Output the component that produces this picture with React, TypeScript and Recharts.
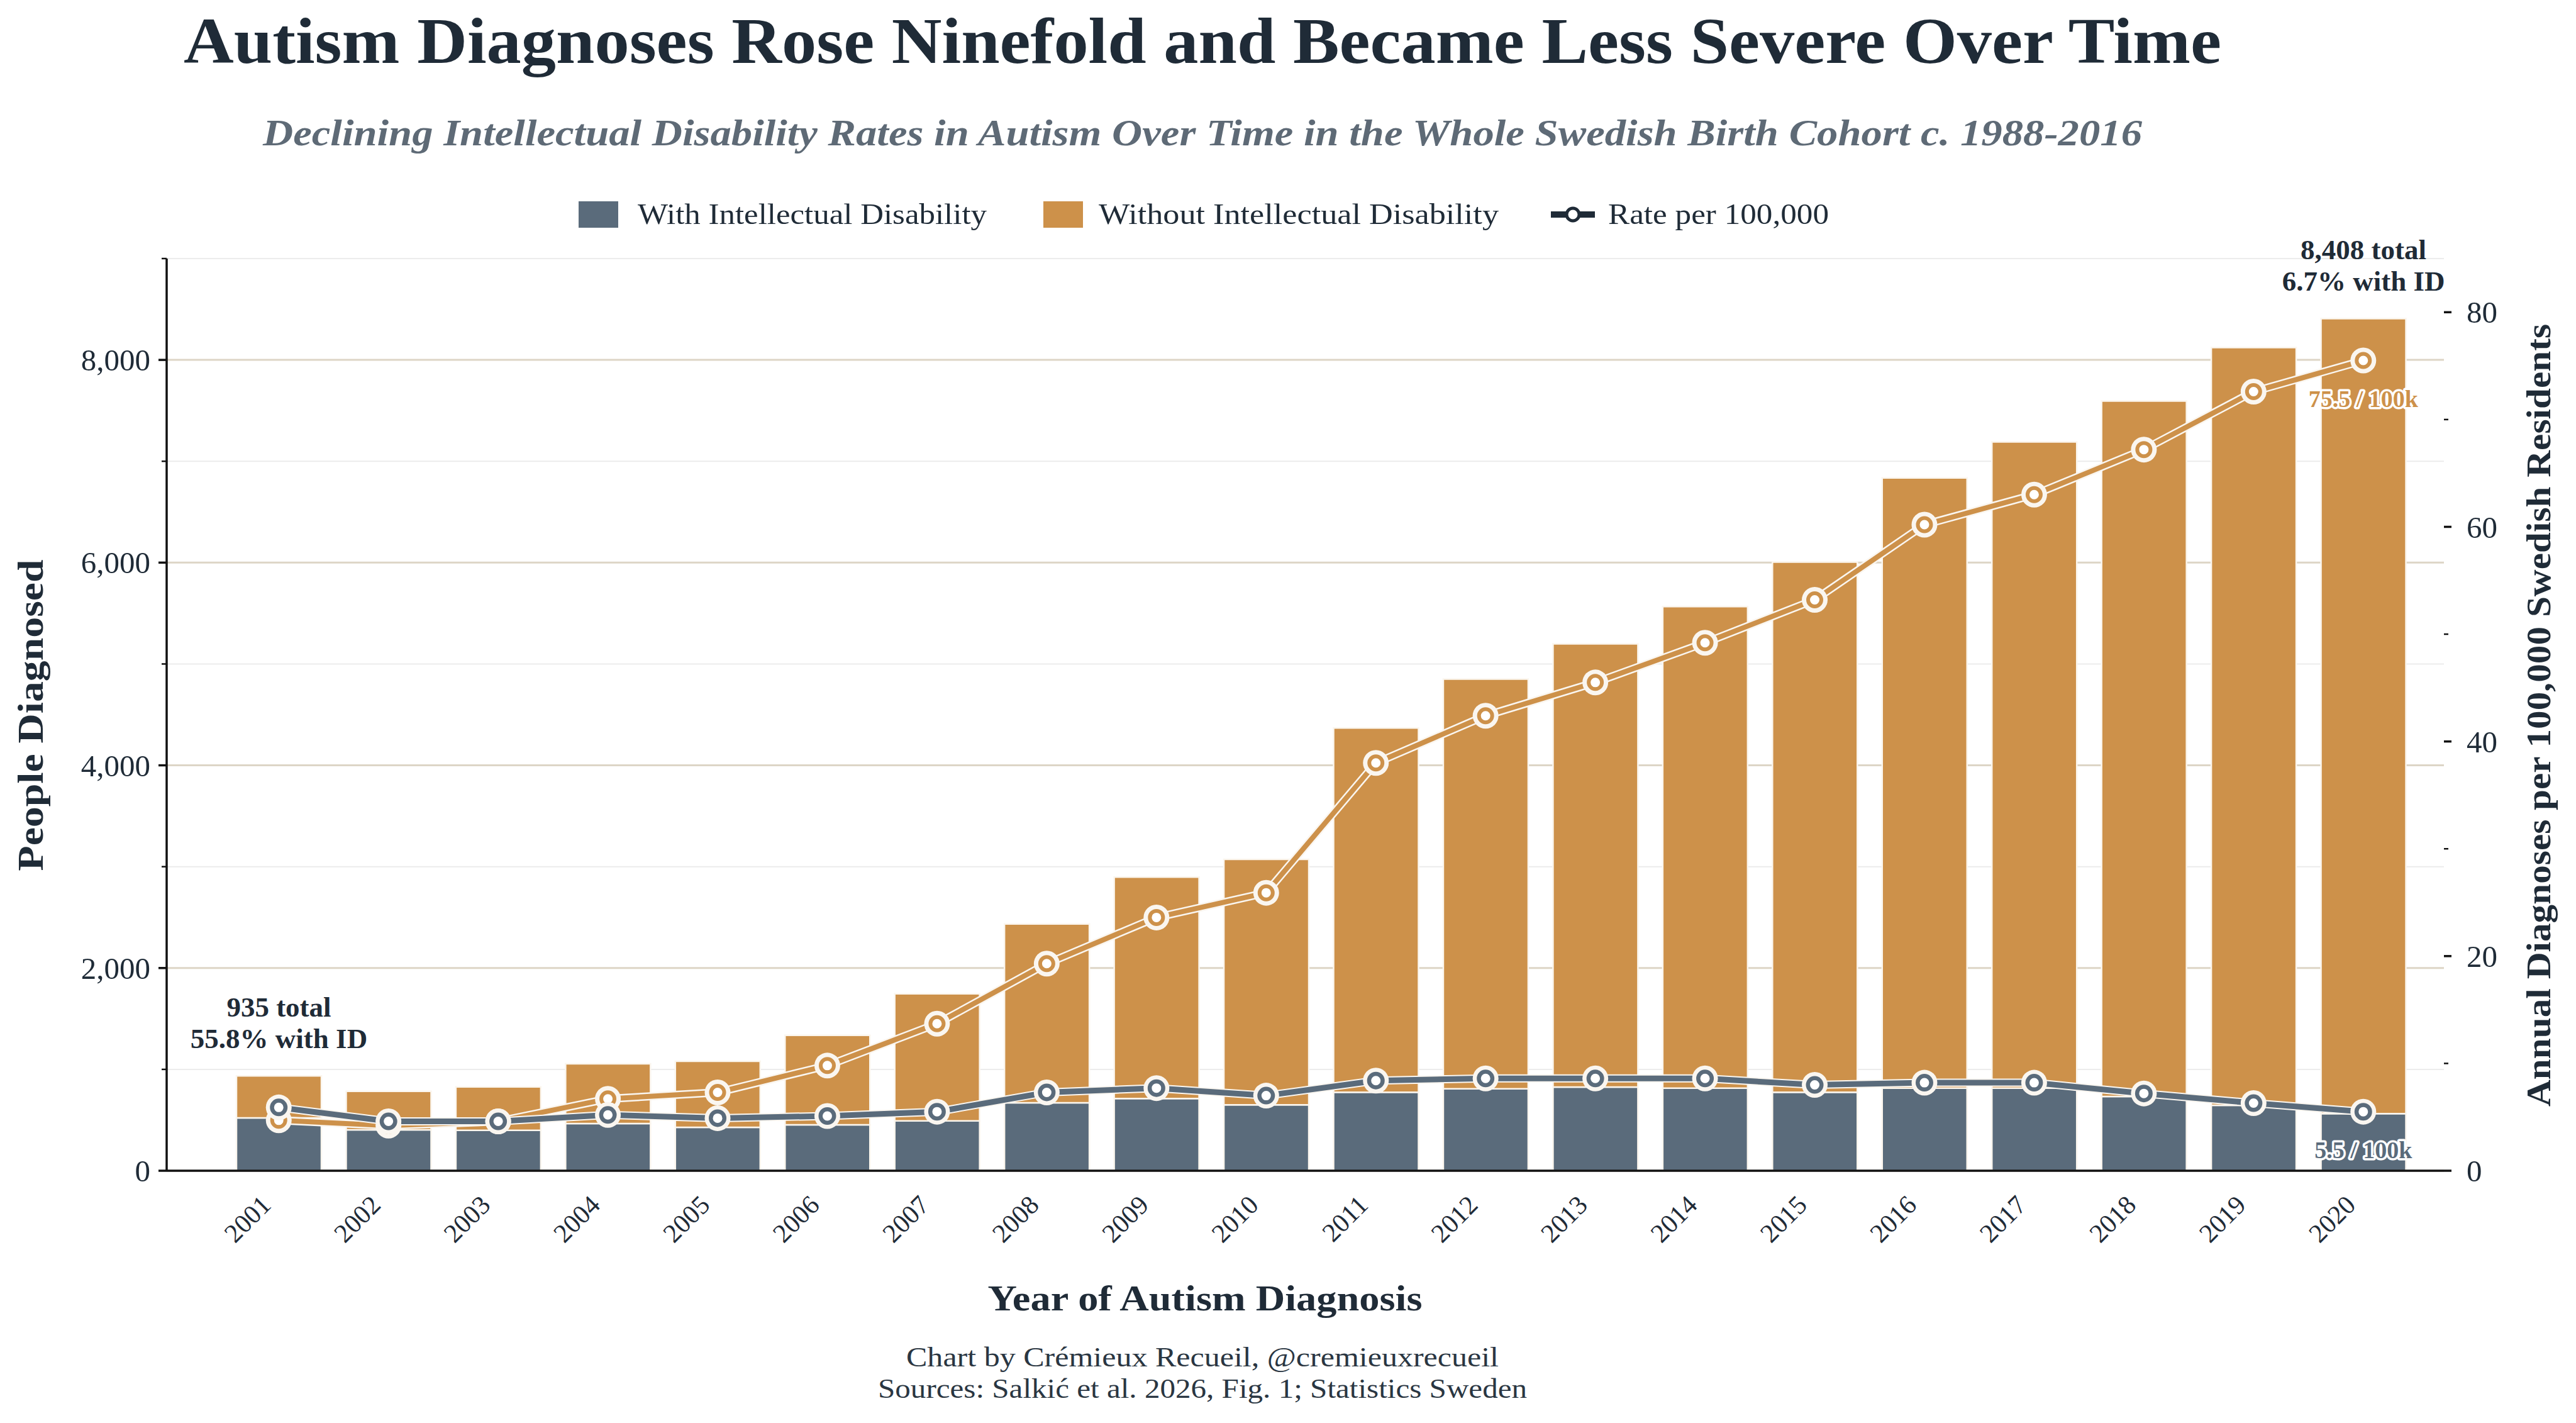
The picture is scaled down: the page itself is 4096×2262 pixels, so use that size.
import React from 'react';
import { ComposedChart, Bar, Line, XAxis, YAxis, CartesianGrid, LabelList } from 'recharts';

const years = ['2001', '2002', '2003', '2004', '2005', '2006', '2007', '2008', '2009', '2010',
  '2011', '2012', '2013', '2014', '2015', '2016', '2017', '2018', '2019', '2020'];
const withId = [521, 403, 399, 465, 428, 453, 492, 670, 713, 650, 775, 808, 825, 815, 775, 815, 815, 732, 646, 563];
const withoutId = [414, 380, 428, 590, 652, 883, 1253, 1765, 2184, 2422, 3593, 4042, 4373, 4751, 5230, 6020, 6375, 6862, 7475, 7845];
const rateId = [5.9, 4.6, 4.6, 5.2, 4.9, 5.1, 5.5, 7.3, 7.7, 7.0, 8.4, 8.6, 8.6, 8.6, 8.0, 8.2, 8.2, 7.2, 6.3, 5.5];
const rateNoId = [4.7, 4.2, 4.6, 6.7, 7.3, 9.8, 13.7, 19.3, 23.6, 25.9, 38.0, 42.4, 45.5, 49.2, 53.2, 60.2, 63.0, 67.2, 72.6, 75.5];

const leftTicks = [0, 1000, 2000, 3000, 4000, 5000, 6000, 7000, 8000, 9000];
const rightTicks = [0, 10, 20, 30, 40, 50, 60, 70, 80];

// bar annotations (first and last year)
const totalNotes: Record<number, string[]> = {
  0: ['935 total', '55.8% with ID'],
  19: ['8,408 total', '6.7% with ID'],
};
const rateNoIdNotes: Record<number, string> = { 19: '75.5 / 100k' };
const rateIdNotes: Record<number, string> = { 19: '5.5 / 100k' };

const GRAY = '#5a6b7b';
const ORANGE = '#cd914a';
const INK = '#1f2b37';
const HALO = '#faf6f0';
const FONT = "'Liberation Serif', 'DejaVu Serif', serif";

const data = years.map((year, i) => ({
  year,
  withId: withId[i],
  withoutId: withoutId[i],
  rateId: rateId[i],
  rateNoId: rateNoId[i],
}));

const gridLine = (p: any) => {
  const major = p.index % 2 === 0 && p.index < 9;
  return (
    <line key={`g-${p.index}`} x1={p.x1} x2={p.x2} y1={p.y1} y2={p.y2}
      stroke={major ? '#ddd5c6' : '#ececec'} strokeWidth={major ? 3 : 2} />
  );
};

const LeftTick = (p: any) => {
  const v = p.payload.value;
  const ax = p.x + 26;
  const major = v % 2000 === 0;
  return (
    <g>
      <line x1={ax - (major ? 13 : 8)} x2={ax} y1={p.y} y2={p.y} stroke="#111" strokeWidth={major ? 3.5 : 2.5} />
      {major && v <= 8000 && (
        <text x={p.x} y={p.y} dy="0.35em" textAnchor="end" fontFamily={FONT} fontSize={49} fill={INK}>
          {v.toLocaleString('en-US')}
        </text>
      )}
    </g>
  );
};

const RightTick = (p: any) => {
  const v = p.payload.value;
  const ax = p.x - 36;
  const major = v % 20 === 0;
  return (
    <g>
      <line x1={ax} x2={ax + (major ? 12 : 7)} y1={p.y} y2={p.y} stroke="#111" strokeWidth={major ? 3.5 : 2.5} />
      {major && (
        <text x={p.x} y={p.y} dy="0.35em" textAnchor="start" fontFamily={FONT} fontSize={49} fill={INK}>
          {v}
        </text>
      )}
    </g>
  );
};

const YearTick = (p: any) => {
  const tx = p.x - 10;
  const ty = p.y + 57;
  return (
    <text x={tx} y={ty} transform={`rotate(-45, ${tx}, ${ty})`} textAnchor="end"
      fontFamily={FONT} fontSize={42} fill={INK}>
      {p.payload.value}
    </text>
  );
};

const makeDot = (color: string, r: number, ring: number) => (p: any) => (
  <g key={`dot-${color}-${p.index}`}>
    <circle cx={p.cx} cy={p.cy} r={20.5} fill={HALO} />
    <circle cx={p.cx} cy={p.cy} r={r} fill="#fff" stroke={color} strokeWidth={ring} />
  </g>
);

const viewBoxOf = (p: any) => p.viewBox || p;

const TotalNote = (p: any) => {
  const lines = totalNotes[p.index];
  if (!lines) return null;
  const vb = viewBoxOf(p);
  const cx = vb.x + (vb.width || 0) / 2;
  return (
    <g>
      <text x={cx} y={vb.y - 94} textAnchor="middle" fontFamily={FONT} fontWeight="bold" fontSize={45} fill={INK}>{lines[0]}</text>
      <text x={cx} y={vb.y - 44} textAnchor="middle" fontFamily={FONT} fontWeight="bold" fontSize={45} fill={INK}>{lines[1]}</text>
    </g>
  );
};

const rateNote = (notes: Record<number, string>, color: string) => (p: any) => {
  const txt = notes[p.index];
  if (!txt) return null;
  const vb = viewBoxOf(p);
  return (
    <text x={vb.x} y={vb.y + 74} textAnchor="middle" fontFamily={FONT} fontWeight="bold" fontSize={38}
      fill={color} stroke="#fff" strokeWidth={7} paintOrder="stroke" strokeLinejoin="round">
      {txt}
    </text>
  );
};

const App: React.FC = () => {
  return (
    <div style={{ position: 'absolute', left: 0, top: 0, width: 4096, height: 2262, background: '#fff' }}>
      <ComposedChart width={4096} height={2262} data={data} margin={{ top: 411, right: 0, bottom: 0, left: 0 }}>
        <CartesianGrid yAxisId="left" vertical={false} horizontal={gridLine} />
        <XAxis dataKey="year" height={401} padding={{ left: 91, right: 41 }} interval={0}
          tickSize={0} tickMargin={0} tickLine={false} tick={<YearTick />}
          axisLine={{ stroke: '#111', strokeWidth: 3.5 }} />
        <YAxis yAxisId="left" width={265} domain={[0, 9000]} ticks={leftTicks} interval={0}
          tickSize={12} tickMargin={14} tickLine={false} tick={<LeftTick />}
          axisLine={{ stroke: '#111', strokeWidth: 3.5 }} />
        <YAxis yAxisId="right" orientation="right" width={210} domain={[0, 85]} ticks={rightTicks} interval={0}
          tickSize={12} tickMargin={24} tickLine={false} tick={<RightTick />} axisLine={false} />
        <Bar yAxisId="left" dataKey="withId" stackId="a" fill={GRAY} stroke="#fbf6ee" strokeWidth={2.5}
          barSize={135} isAnimationActive={false} />
        <Bar yAxisId="left" dataKey="withoutId" stackId="a" fill={ORANGE} stroke="#fbf6ee" strokeWidth={2.5}
          barSize={135} isAnimationActive={false}>
          <LabelList dataKey="withoutId" content={TotalNote} />
        </Bar>
        <Line yAxisId="right" dataKey="rateNoId" type="linear" stroke={HALO} strokeWidth={13}
          dot={false} activeDot={false} isAnimationActive={false} />
        <Line yAxisId="right" dataKey="rateNoId" type="linear" stroke={ORANGE} strokeWidth={8}
          dot={makeDot(ORANGE, 10.5, 6)} activeDot={false} isAnimationActive={false}>
          <LabelList dataKey="rateNoId" content={rateNote(rateNoIdNotes, ORANGE)} />
        </Line>
        <Line yAxisId="right" dataKey="rateId" type="linear" stroke={HALO} strokeWidth={13}
          dot={false} activeDot={false} isAnimationActive={false} />
        <Line yAxisId="right" dataKey="rateId" type="linear" stroke={GRAY} strokeWidth={9}
          dot={makeDot(GRAY, 10.75, 6.5)} activeDot={false} isAnimationActive={false}>
          <LabelList dataKey="rateId" content={rateNote(rateIdNotes, GRAY)} />
        </Line>
      </ComposedChart>

      <svg width={4096} height={2262} style={{ position: 'absolute', left: 0, top: 0, pointerEvents: 'none' }}>
        <g fontFamily={FONT}>
          <text x={1912} y={100} textAnchor="middle" fontSize={104} fontWeight="bold" fill={INK}
            textLength={3240} lengthAdjust="spacingAndGlyphs">
            Autism Diagnoses Rose Ninefold and Became Less Severe Over Time
          </text>
          <text x={1912} y={231} textAnchor="middle" fontSize={60} fontWeight="bold" fontStyle="italic" fill="#5e6a76"
            textLength={2988} lengthAdjust="spacingAndGlyphs">
            Declining Intellectual Disability Rates in Autism Over Time in the Whole Swedish Birth Cohort c. 1988-2016
          </text>

          <rect x={920} y={320} width={63} height={42} fill={GRAY} />
          <text x={1014} y={356} fontSize={46} fill={INK} textLength={555} lengthAdjust="spacingAndGlyphs">
            With Intellectual Disability
          </text>
          <rect x={1659} y={320} width={63} height={42} fill={ORANGE} />
          <text x={1747} y={356} fontSize={46} fill={INK} textLength={636} lengthAdjust="spacingAndGlyphs">
            Without Intellectual Disability
          </text>
          <line x1={2466} x2={2536} y1={341} y2={341} stroke={INK} strokeWidth={10} />
          <circle cx={2501} cy={341} r={10} fill="#fff" stroke={INK} strokeWidth={5} />
          <text x={2557} y={356} fontSize={46} fill={INK} textLength={351} lengthAdjust="spacingAndGlyphs">
            Rate per 100,000
          </text>

          <text x={48} y={1137} transform="rotate(-90, 48, 1137)" textAnchor="middle" dominantBaseline="central"
            fontSize={58} fontWeight="bold" fill={INK} textLength={495} lengthAdjust="spacingAndGlyphs">
            People Diagnosed
          </text>
          <text x={4037} y={1137} transform="rotate(-90, 4037, 1137)" textAnchor="middle" dominantBaseline="central"
            fontSize={54} fontWeight="bold" fill={INK} textLength={1244} lengthAdjust="spacingAndGlyphs">
            Annual Diagnoses per 100,000 Swedish Residents
          </text>

          <text x={1916} y={2083} textAnchor="middle" fontSize={58} fontWeight="bold" fill={INK}
            textLength={691} lengthAdjust="spacingAndGlyphs">
            Year of Autism Diagnosis
          </text>
          <text x={1912} y={2172} textAnchor="middle" fontSize={44} fill="#2a3642"
            textLength={942} lengthAdjust="spacingAndGlyphs">
            Chart by Crémieux Recueil, @cremieuxrecueil
          </text>
          <text x={1912} y={2222} textAnchor="middle" fontSize={44} fill="#2a3642"
            textLength={1032} lengthAdjust="spacingAndGlyphs">
            Sources: Salkić et al. 2026, Fig. 1; Statistics Sweden
          </text>
        </g>
      </svg>
    </div>
  );
};

export default App;
